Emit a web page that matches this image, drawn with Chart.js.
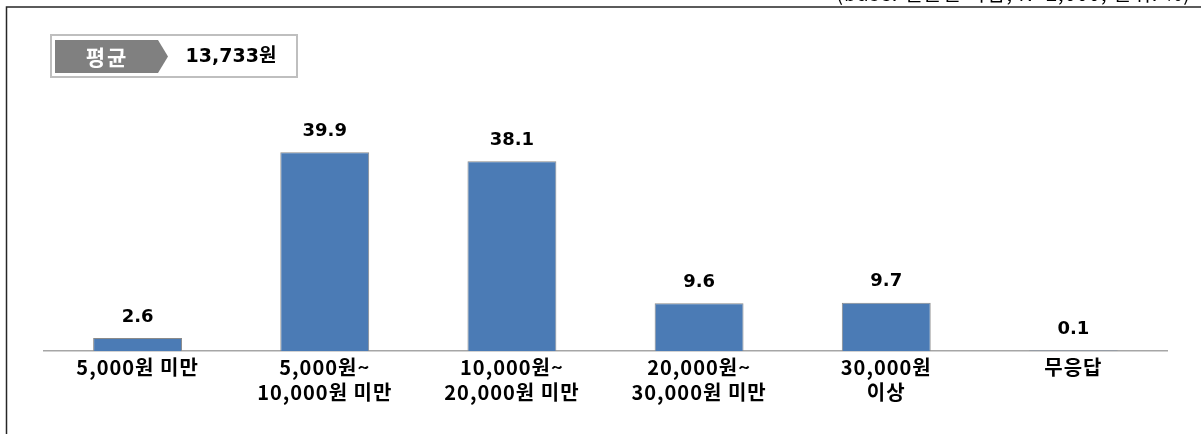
<!DOCTYPE html>
<html>
<head>
<meta charset="utf-8">
<script src="https://cdn.jsdelivr.net/npm/chart.js@4/dist/chart.umd.min.js"></script>
<style>
html,body{margin:0;padding:0;background:#fff;}
#wrap{width:1201px;height:434px;position:relative;}
</style>
</head>
<body>
<div id="wrap"><canvas id="c" width="1201" height="434"></canvas></div>
<script>
const categories = [
  ['5,000원 미만'],
  ['5,000원~', '10,000원 미만'],
  ['10,000원~', '20,000원 미만'],
  ['20,000원~', '30,000원 미만'],
  ['30,000원', '이상'],
  ['무응답']
];
const values = [2.6, 39.9, 38.1, 9.6, 9.7, 0.1];
const averageLabel = '평균';
const averageValue = '13,733원';
const baseNote = '(base: 결혼한 사람, N=2,000, 단위: %)';

const FONT = '"Noto Sans CJK KR", "Noto Sans", sans-serif';
const WIDE = '"DejaVu Sans", "Noto Sans CJK KR", sans-serif';

const overlay = {
  id: 'overlay',
  beforeDraw(chart) {
    const ctx = chart.ctx;
    ctx.save();
    ctx.fillStyle = '#fff';
    ctx.fillRect(0, 0, chart.width, chart.height);
    ctx.restore();
    ctx.letterSpacing = '1px';
  },
  afterDatasetsDraw(chart) {
    const ctx = chart.ctx;
    const meta = chart.getDatasetMeta(0);
    ctx.save();
    ctx.letterSpacing = '0px';
    ctx.fillStyle = '#000';
    ctx.font = 'bold 18px ' + WIDE;
    ctx.textAlign = 'center';
    ctx.textBaseline = 'middle';
    meta.data.forEach((bar, i) => {
      ctx.fillText(values[i].toFixed(1), bar.x, bar.y - 21);
    });
    ctx.restore();
  },
  afterDraw(chart) {
    const ctx = chart.ctx;
    ctx.save();
    ctx.letterSpacing = '0px';
    // frame
    ctx.strokeStyle = '#262626';
    ctx.lineWidth = 1.5;
    ctx.beginPath();
    ctx.moveTo(6.5, 434);
    ctx.lineTo(6.5, 7);
    ctx.lineTo(1201, 7);
    ctx.stroke();
    // clipped note at top right
    ctx.fillStyle = '#000';
    ctx.font = '20px ' + FONT;
    ctx.textAlign = 'right';
    ctx.textBaseline = 'alphabetic';
    ctx.letterSpacing = '1px';
    ctx.fillText(baseNote, 1191, 1);
    ctx.letterSpacing = '0px';
    // average box
    ctx.strokeStyle = '#bfbfbf';
    ctx.lineWidth = 2;
    ctx.strokeRect(51, 35, 246, 42);
    ctx.fillStyle = '#808080';
    ctx.beginPath();
    ctx.moveTo(55, 40);
    ctx.lineTo(158, 40);
    ctx.lineTo(168, 56.5);
    ctx.lineTo(158, 73);
    ctx.lineTo(55, 73);
    ctx.closePath();
    ctx.fill();
    ctx.fillStyle = '#fff';
    ctx.font = 'bold 21px ' + FONT;
    ctx.textAlign = 'center';
    ctx.textBaseline = 'middle';
    ctx.letterSpacing = '2px';
    ctx.fillText(averageLabel, 107, 57);
    ctx.letterSpacing = '0px';
    ctx.fillStyle = '#000';
    ctx.font = 'bold 19px ' + WIDE;
    ctx.fillText(averageValue, 231, 57);
    ctx.restore();
  }
};

new Chart(document.getElementById('c'), {
  type: 'bar',
  data: {
    labels: categories,
    datasets: [{
      data: values,
      backgroundColor: '#4b7bb5',
      borderColor: '#8a8a8a',
      borderWidth: 1,
      barPercentage: 0.475,
      categoryPercentage: 1
    }]
  },
  options: {
    responsive: false,
    animation: false,
    layout: { padding: { left: 44, right: 34, top: 102, bottom: 0 } },
    plugins: { legend: { display: false }, tooltip: { enabled: false } },
    scales: {
      x: {
        grid: { display: false, drawTicks: false },
        border: { display: true, color: '#a6a6a6', width: 1.5 },
        ticks: {
          color: '#000',
          padding: 4,
          maxRotation: 0,
          autoSkip: false,
          font: { family: FONT, size: 20, weight: 'bold', lineHeight: 1.25 }
        },
        afterFit(s) { s.height = 83; }
      },
      y: {
        display: false,
        min: 0,
        max: 50
      }
    }
  },
  plugins: [overlay]
});
</script>
</body>
</html>
